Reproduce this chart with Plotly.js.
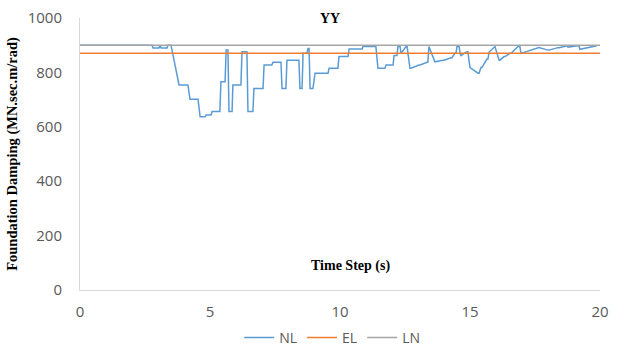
<!DOCTYPE html>
<html>
<head>
<meta charset="utf-8">
<script src="https://cdn.plot.ly/plotly-3.0.1.min.js"></script>
<style>html,body{margin:0;padding:0;background:#fff;}#chart{width:617px;height:354px;}</style>
</head>
<body>
<div id="chart"></div>
<script>
// NL series: time (s) and damping (MN.sec.m/rad)
const nlTime = [0.00,2.77,2.81,3.04,3.08,3.12,3.35,3.38,3.50,3.81,4.15,4.23,4.54,4.62,4.81,4.85,5.04,5.08,5.38,5.42,5.58,5.62,5.69,5.73,5.85,5.88,6.19,6.23,6.42,6.46,6.65,6.69,7.04,7.08,7.38,7.42,7.73,7.77,7.92,7.96,8.42,8.46,8.54,8.58,8.73,8.77,8.81,8.85,8.96,9.04,9.54,9.58,9.92,9.96,10.31,10.35,10.85,10.88,11.38,11.46,11.73,11.77,12.04,12.08,12.19,12.23,12.31,12.35,12.54,12.58,12.69,12.73,13.04,13.08,13.35,13.38,13.42,13.62,13.65,13.96,14.00,14.27,14.31,14.42,14.46,14.50,14.58,14.62,14.65,14.88,14.92,14.96,15.00,15.31,15.35,15.42,15.46,15.65,15.69,15.73,15.88,15.92,15.96,16.12,16.15,16.31,16.35,16.54,16.58,16.85,16.92,16.96,17.62,17.65,18.00,18.04,18.38,18.42,18.73,18.77,19.15,19.19,19.23,19.88];
const nlValue = [900,900,890,890,900,890,890,900,900,754,754,701,701,637,637,643,643,656,656,766,766,882,882,656,656,754,754,876,876,656,656,741,741,827,827,837,837,741,741,845,845,741,741,870,870,888,888,741,741,797,797,815,815,858,858,886,886,895,895,815,815,827,827,862,862,895,895,870,895,895,815,815,827,827,837,837,895,839,839,845,845,854,854,870,870,895,895,870,862,876,876,845,818,797,797,818,818,849,849,874,888,888,895,845,845,858,858,870,870,895,895,870,891,891,882,882,891,891,898,893,898,898,885,898,898];
const elTime = [0, 20];
const elValue = [870, 870];
const lnTime = [0, 20];
const lnValue = [900, 900];
const yTicks = [0, 200, 400, 600, 800, 1000];
const xTicks = [0, 5, 10, 15, 20];

const traces = [
  {x: nlTime, y: nlValue, name: 'NL', type: 'scatter', mode: 'lines', line: {color: '#5B9BD5', width: 1.5}},
  {x: elTime, y: elValue, name: 'EL', type: 'scatter', mode: 'lines', line: {color: '#ED7D31', width: 1.5}},
  {x: lnTime, y: lnValue, name: 'LN', type: 'scatter', mode: 'lines', line: {color: '#A5A5A5', width: 1.5}}
];

const tickFont = {family: 'Open Sans, Liberation Sans, sans-serif', size: 15, color: '#595959'};
const serifBold = {family: 'Liberation Serif, DejaVu Serif, serif', size: 14, color: '#000'};

const layout = {
  width: 617, height: 354,
  margin: {l: 80, r: 17, t: 18, b: 64, autoexpand: false},
  paper_bgcolor: '#fff', plot_bgcolor: '#fff',
  showlegend: true,
  legend: {orientation: 'h', xref: 'paper', x: 0.485, xanchor: 'center', yref: 'container', y: 0.0, yanchor: 'bottom',
           font: {family: 'Open Sans, Liberation Sans, sans-serif', size: 14, color: '#595959'},
           traceorder: 'normal', itemwidth: 30, tracegroupgap: 0},
  xaxis: {range: [0, 20], tickvals: xTicks, ticktext: xTicks.map(String), showgrid: false, zeroline: false,
          showline: true, linecolor: '#D9D9D9', linewidth: 1, ticks: '', tickfont: tickFont, ticklabelstandoff: 8,
          fixedrange: true},
  yaxis: {range: [0, 1000], tickvals: yTicks, ticktext: yTicks.map(String), showgrid: false, zeroline: false,
          showline: true, linecolor: '#D9D9D9', linewidth: 1, ticks: '', tickfont: tickFont, ticklabelstandoff: 14,
          title: {text: '<b>Foundation Damping (MN.sec.m/rad)</b>', font: {family: 'Liberation Serif, DejaVu Serif, serif', size: 14.5, color: '#000'}, standoff: 6},
          fixedrange: true},
  annotations: [
    {text: '<b>YY</b>', xref: 'paper', yref: 'paper', x: 0.48, y: 1.0, xanchor: 'center', yanchor: 'middle', showarrow: false, font: serifBold},
    {text: '<b>Time Step (s)</b>', xref: 'paper', yref: 'paper', x: 0.52, y: 0.088, xanchor: 'center', yanchor: 'middle', showarrow: false, font: {family: 'Liberation Serif, DejaVu Serif, serif', size: 14, color: '#000'}}
  ]
};

Plotly.newPlot('chart', traces, layout, {displayModeBar: false, staticPlot: true});
</script>
</body>
</html>
